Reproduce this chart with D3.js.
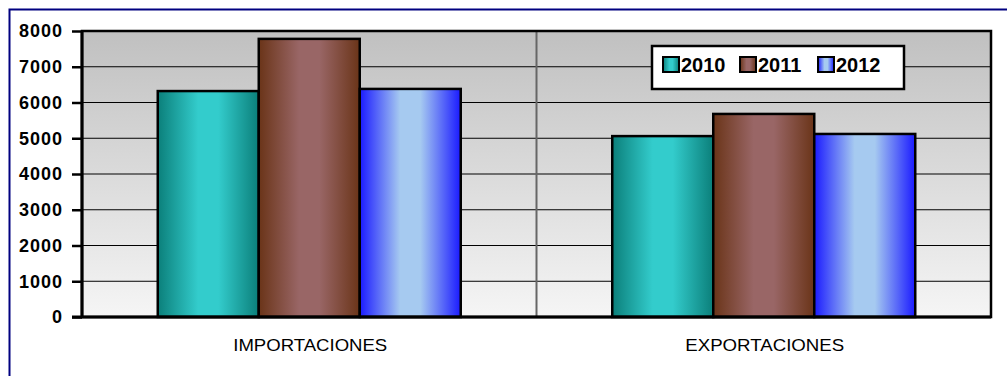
<!DOCTYPE html>
<html>
<head>
<meta charset="utf-8">
<script src="https://cdnjs.cloudflare.com/ajax/libs/d3/7.8.5/d3.min.js"></script>
<style>
  html, body { margin: 0; padding: 0; background: #fff; }
  #chart { width: 1007px; height: 376px; }
</style>
</head>
<body>
<div id="chart"></div>
<script>
// data
var categories = ["IMPORTACIONES", "EXPORTACIONES"];
var years = ["2010", "2011", "2012"];
var values2010 = [6320, 5060];
var values2011 = [7780, 5680];
var values2012 = [6380, 5120];
var yTicks = [0, 1000, 2000, 3000, 4000, 5000, 6000, 7000, 8000];

// colours per series: [edge, centre]
var seriesColors = [
    ["#0b7f7a", "#33cccc"],
    ["#6a3418", "#996666"],
    ["#1a1aff", "#a6caf0"]
];

var series = [values2010, values2011, values2012];

var svg = d3.select("#chart").append("svg")
    .attr("width", 1007)
    .attr("height", 376);

// outer frame
svg.append("path")
    .attr("d", "M9.5,376 L9.5,9.5 L1007,9.5")
    .attr("fill", "none")
    .attr("stroke", "#000080")
    .attr("stroke-width", 2);

var margin = { top: 31, left: 82 };
var width = 991 - 82,
    height = 317 - 31;

var defs = svg.append("defs");

var bg = defs.append("linearGradient")
    .attr("id", "bg")
    .attr("x1", 0).attr("y1", 0).attr("x2", 0).attr("y2", 1);
bg.append("stop").attr("offset", "0%").attr("stop-color", "#c0c0c0");
bg.append("stop").attr("offset", "100%").attr("stop-color", "#f5f5f5");

seriesColors.forEach(function(c, i){
    var g = defs.append("linearGradient")
        .attr("id", "bar" + i)
        .attr("x1", 0).attr("y1", 0).attr("x2", 1).attr("y2", 0);
    g.append("stop").attr("offset", "0%").attr("stop-color", c[0]);
    g.append("stop").attr("offset", "40%").attr("stop-color", c[1]);
    g.append("stop").attr("offset", "60%").attr("stop-color", c[1]);
    g.append("stop").attr("offset", "100%").attr("stop-color", c[0]);
});

var chart = svg.append("g")
    .attr("transform", "translate(" + margin.left + "," + margin.top + ")");

// scales
var x0 = d3.scaleBand()
    .domain(categories)
    .range([0, width]);

var x1 = d3.scaleBand()
    .domain(years)
    .range([0, x0.bandwidth()])
    .paddingOuter(0.75);

var y = d3.scaleLinear()
    .domain([0, 8000])
    .range([height, 0]);

// plot background
chart.append("rect")
    .attr("width", width)
    .attr("height", height)
    .attr("fill", "url(#bg)");

// gridlines
chart.selectAll("line.grid")
    .data(yTicks.slice(1))
    .enter().append("line")
    .attr("class", "grid")
    .attr("x1", 0).attr("x2", width)
    .attr("y1", function(d){ return y(d); })
    .attr("y2", function(d){ return y(d); })
    .attr("stroke", "#000")
    .attr("stroke-width", 1);

// category divider
chart.append("line")
    .attr("x1", x0.step()).attr("x2", x0.step())
    .attr("y1", 0).attr("y2", height)
    .attr("stroke", "#666")
    .attr("stroke-width", 2);

// bars
var groups = chart.selectAll("g.cat")
    .data(categories)
    .enter().append("g")
    .attr("class", "cat")
    .attr("transform", function(d){ return "translate(" + x0(d) + ",0)"; });

groups.selectAll("rect.bar")
    .data(function(d, ci){
        return years.map(function(yr, si){
            return { year: yr, s: si, value: series[si][ci] };
        });
    })
    .enter().append("rect")
    .attr("class", "bar")
    .attr("x", function(d){ return x1(d.year); })
    .attr("y", function(d){ return y(d.value); })
    .attr("width", x1.bandwidth())
    .attr("height", function(d){ return height - y(d.value); })
    .attr("fill", function(d){ return "url(#bar" + d.s + ")"; })
    .attr("stroke", "#000")
    .attr("stroke-width", 2.5);

// plot border
chart.append("rect")
    .attr("width", width)
    .attr("height", height)
    .attr("fill", "none")
    .attr("stroke", "#000")
    .attr("stroke-width", 2.5);

// y axis
var yAxis = d3.axisLeft(y)
    .tickValues(yTicks)
    .tickSize(10)
    .tickPadding(9)
    .tickFormat(d3.format("d"));

var gY = chart.append("g").call(yAxis);
gY.select(".domain").attr("stroke-width", 3).attr("d", "M0,0V" + height);
gY.selectAll(".tick line").attr("stroke-width", 2.5);
gY.selectAll("text")
    .attr("font-family", "Arial, 'Liberation Sans', sans-serif")
    .attr("font-size", 18)
    .attr("font-weight", "bold")
    .attr("letter-spacing", 1)
    .attr("fill", "#000");

// bottom axis line
chart.append("line")
    .attr("x1", -10).attr("x2", width)
    .attr("y1", height).attr("y2", height)
    .attr("stroke", "#000")
    .attr("stroke-width", 3);

// category labels
var catWidths = [154, 159];
chart.selectAll("text.cat")
    .data(categories)
    .enter().append("text")
    .attr("class", "cat")
    .attr("x", function(d, i){ return x0(d) + x0.bandwidth() / 2 + 1 - catWidths[i] / 2; })
    .attr("y", height + 34)
    .attr("font-family", "Arial, 'Liberation Sans', sans-serif")
    .attr("font-size", 17)
    .attr("textLength", function(d, i){ return catWidths[i]; })
    .attr("lengthAdjust", "spacingAndGlyphs")
    .attr("fill", "#000")
    .text(function(d){ return d; });

// legend
var legend = svg.append("g")
    .attr("transform", "translate(652,46)");

legend.append("rect")
    .attr("width", 252)
    .attr("height", 43)
    .attr("fill", "#fff")
    .attr("stroke", "#000")
    .attr("stroke-width", 2.5);

var legendX = [11, 88, 166];
var items = legend.selectAll("g.item")
    .data(years)
    .enter().append("g")
    .attr("class", "item")
    .attr("transform", function(d, i){ return "translate(" + legendX[i] + ",11)"; });

items.append("rect")
    .attr("width", 16)
    .attr("height", 15)
    .attr("fill", function(d, i){ return "url(#bar" + i + ")"; })
    .attr("stroke", "#000")
    .attr("stroke-width", 2);

items.append("text")
    .attr("x", 18)
    .attr("y", 14.5)
    .attr("font-family", "Arial, 'Liberation Sans', sans-serif")
    .attr("font-size", 20)
    .attr("font-weight", "bold")
    .attr("fill", "#000")
    .text(function(d){ return d; });
</script>
</body>
</html>
